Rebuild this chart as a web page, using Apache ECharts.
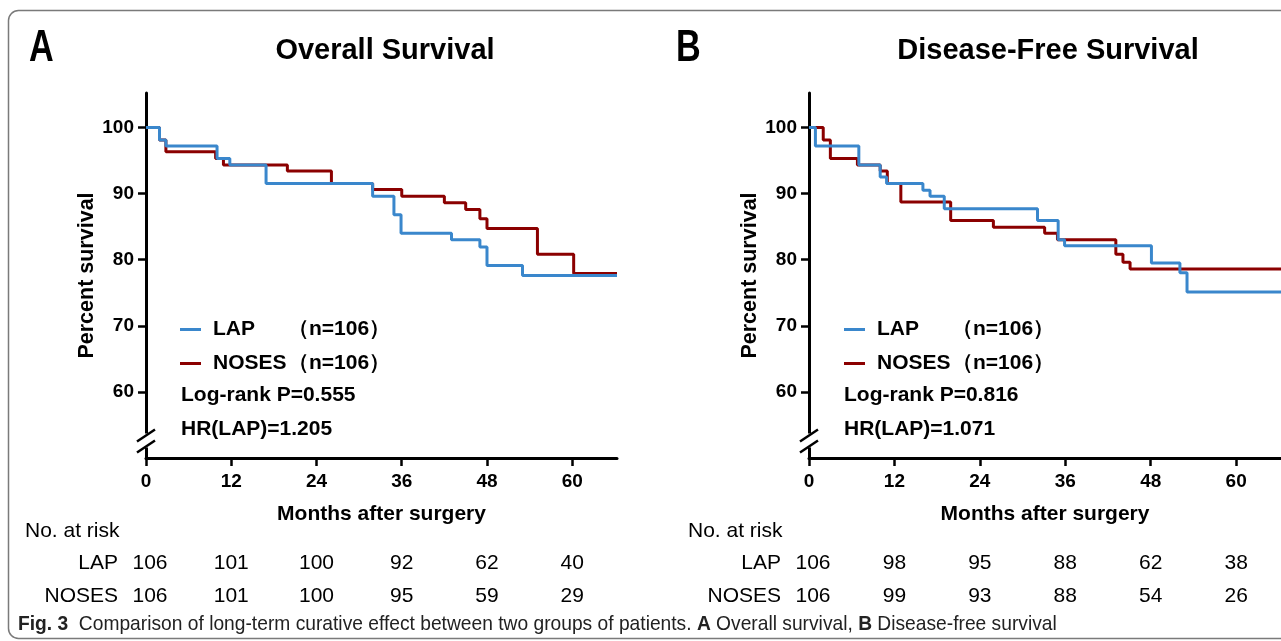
<!DOCTYPE html>
<html><head><meta charset="utf-8">
<script src="https://cdn.jsdelivr.net/npm/echarts@6/dist/echarts.min.js"></script>
<style>html,body{margin:0;padding:0;background:#fff}#c{width:1281px;height:641px}</style>
</head><body><div id="c"></div>
<script>
// ---- data ----
const monthTicks = [0, 12, 24, 36, 48, 60];
const pctTicks = [60, 70, 80, 90, 100];
const groupNames = ['LAP', 'NOSES'];
const groupN = [106, 106];

// Panel A: Overall survival (time in months, survival in %)
const osLapTime = [0, 1.9, 2.8, 10.0, 11.8, 16.9, 31.9, 34.9, 35.9, 43.0, 47.0, 48.0, 53.0, 66.3];
const osLapSurv = [100, 98.1, 97.2, 95.3, 94.3, 91.5, 89.6, 86.8, 84.0, 83.0, 81.9, 79.1, 77.6, 77.6];
const osNosesTime = [0, 1.9, 2.8, 9.8, 10.9, 19.9, 26.1, 31.9, 36.0, 42.0, 45.0, 47.0, 48.0, 55.1, 60.2, 66.3];
const osNosesSurv = [100, 98.1, 96.3, 95.3, 94.3, 93.4, 91.5, 90.6, 89.6, 88.6, 87.6, 86.2, 84.7, 80.8, 77.9, 77.9];

// Panel B: Disease-free survival
const dfsLapTime = [0, 0.9, 7.0, 10.0, 10.9, 16.0, 17.0, 19.0, 32.1, 35.0, 35.9, 48.1, 52.1, 53.1, 66.3];
const dfsLapSurv = [100, 97.2, 94.3, 92.5, 91.5, 90.5, 89.6, 87.7, 85.9, 83.0, 82.1, 79.5, 78.0, 75.1, 75.1];
const dfsNosesTime = [0, 2.0, 3.0, 6.8, 10.0, 11.0, 12.9, 19.9, 25.9, 33.1, 34.9, 43.1, 44.1, 45.1, 66.3];
const dfsNosesSurv = [100, 98.1, 95.3, 94.3, 93.4, 91.5, 88.7, 85.9, 84.9, 84.0, 83.0, 80.8, 79.6, 78.6, 78.6];

// Number at risk
const riskMonths = [0, 12, 24, 36, 48, 60];
const osRiskLap = [106, 101, 100, 92, 62, 40];
const osRiskNoses = [106, 101, 100, 95, 59, 29];
const dfsRiskLap = [106, 98, 95, 88, 62, 38];
const dfsRiskNoses = [106, 99, 93, 88, 54, 26];

const panelTitles = ['Overall Survival', 'Disease-Free Survival'];
const panelLetters = ['A', 'B'];
const logRankP = ['0.555', '0.816'];
const hrLap = ['1.205', '1.071'];
const caption = ['Fig. 3', 'Comparison of long-term curative effect between two groups of patients.', 'A', 'Overall survival,', 'B', 'Disease-free survival'];

// ---- styles ----
const FONT = "'Liberation Sans', Arial, Helvetica, sans-serif";
const BLUE = '#3a87cc';
const RED = '#8b0000';
const AXIS_MAX_X = 66.3;

const chart = echarts.init(document.getElementById('c'), null, {renderer: 'canvas'});

function pairs(t, s) { return t.map((v, i) => [v, s[i]]); }

function xAxis(gi) {
  return {
    type: 'value', gridIndex: gi, min: 0, max: AXIS_MAX_X, interval: 12,
    name: 'Months after surgery', nameLocation: 'middle', nameGap: 46,
    nameTextStyle: {fontFamily: FONT, fontWeight: 'bold', fontSize: 21, color: '#000', verticalAlign: 'top'},
    axisLine: {show: true, onZero: false, lineStyle: {color: '#000', width: 3}},
    axisTick: {show: true, inside: false, length: 8, lineStyle: {color: '#000', width: 2.5}, customValues: monthTicks},
    axisLabel: {fontFamily: FONT, fontWeight: 'bold', fontSize: 19, color: '#000', margin: 14, customValues: monthTicks},
    splitLine: {show: false}
  };
}
function yAxis(gi) {
  return {
    type: 'value', gridIndex: gi, min: 50, max: 105.2, interval: 10,
    name: 'Percent survival', nameLocation: 'middle', nameGap: 48,
    nameTextStyle: {fontFamily: FONT, fontWeight: 'bold', fontSize: 21.5, color: '#000'},
    axisLine: {show: true, onZero: false, lineStyle: {color: '#000', width: 3}},
    axisTick: {show: true, inside: false, length: 8, lineStyle: {color: '#000', width: 2.5}, customValues: pctTicks},
    axisLabel: {fontFamily: FONT, fontWeight: 'bold', fontSize: 19, color: '#000', margin: 12, customValues: pctTicks},
    splitLine: {show: false}
  };
}
function kmSeries(name, gi, data, color, z) {
  return {
    type: 'line', name: name, xAxisIndex: gi, yAxisIndex: gi, step: 'end',
    data: data, showSymbol: false, symbol: 'none', z: z,
    lineStyle: {color: color, width: 3}, itemStyle: {color: color},
    emphasis: {disabled: true}, animation: false
  };
}
function legend(left) {
  return {
    left: left, top: 319, orient: 'vertical', icon: 'rect', itemWidth: 21, itemHeight: 3, itemGap: 13,
    padding: 0, data: groupNames, selectedMode: false,
    formatter: name => '{a|' + name + '}{b|（n=' + groupN[groupNames.indexOf(name)] + '）}',
    textStyle: {
      rich: {
        a: {fontFamily: FONT, fontWeight: 'bold', fontSize: 21, color: '#000', width: 75, padding: [0, 0, 0, 7], lineHeight: 24},
        b: {fontFamily: FONT, fontWeight: 'bold', fontSize: 21, color: '#000', lineHeight: 24}
      }
    }
  };
}

const grids = [
  {left: 146, top: 93, width: 471, height: 365},
  {left: 809, top: 93, width: 472, height: 365}
];

chart.setOption({
  backgroundColor: '#fff',
  animation: false,
  title: panelTitles.map((t, i) => ({
    text: t, left: i === 0 ? 380 : 1043, top: 31, textAlign: 'center',
    textStyle: {fontFamily: FONT, fontWeight: 'bold', fontSize: 29, color: '#000'}
  })),
  legend: [legend(180), legend(844)],
  grid: grids,
  xAxis: [xAxis(0), xAxis(1)],
  yAxis: [yAxis(0), yAxis(1)],
  series: [
    kmSeries('NOSES', 0, pairs(osNosesTime, osNosesSurv), RED, 2),
    kmSeries('LAP', 0, pairs(osLapTime, osLapSurv), BLUE, 3),
    kmSeries('NOSES', 1, pairs(dfsNosesTime, dfsNosesSurv), RED, 2),
    kmSeries('LAP', 1, pairs(dfsLapTime, dfsLapSurv), BLUE, 3)
  ]
});

// ---- annotations positioned from the axes ----
const g = [];
// border
g.push({type: 'rect', shape: {x: 8.5, y: 10.5, width: 1300, height: 628, r: 10},
  style: {fill: 'none', stroke: '#7a7a7a', lineWidth: 1.5}, z: 1, silent: true});

const riskSets = [[osRiskLap, osRiskNoses], [dfsRiskLap, dfsRiskNoses]];
for (let p = 0; p < 2; p++) {
  const x0 = chart.convertToPixel({xAxisIndex: p}, 0);
  const yTop = chart.convertToPixel({yAxisIndex: p}, 53.7);
  const yBot = chart.convertToPixel({yAxisIndex: p}, 51.6);
  // axis break
  g.push({type: 'rect', shape: {x: x0 - 4, y: yTop, width: 8, height: yBot - yTop}, style: {fill: '#fff'}, z: 50, silent: true});
  [yTop + 2, yBot - 1].forEach(yc => {
    g.push({type: 'line', shape: {x1: x0 - 9, y1: yc + 6, x2: x0 + 9, y2: yc - 6},
      style: {stroke: '#000', lineWidth: 2.5}, z: 51, silent: true});
  });
  // panel letter
  g.push({type: 'text', x: p === 0 ? 29 : 676, y: 26, scaleX: 0.76, z: 60,
    style: {text: panelLetters[p], font: "bold 45px " + FONT, fill: '#000', textAlign: 'left', textVerticalAlign: 'top'}});
  // stats
  g.push({type: 'text', x: x0 + 35, y: 395, z: 60,
    style: {text: 'Log-rank P=' + logRankP[p], font: "bold 21px " + FONT, fill: '#000', textVerticalAlign: 'middle'}});
  g.push({type: 'text', x: x0 + 35, y: 429, z: 60,
    style: {text: 'HR(LAP)=' + hrLap[p], font: "bold 21px " + FONT, fill: '#000', textVerticalAlign: 'middle'}});
  // risk table
  g.push({type: 'text', x: x0 - 121, y: 531, z: 60,
    style: {text: 'No. at risk', font: "21px " + FONT, fill: '#000', textVerticalAlign: 'middle'}});
  const rowY = [563, 596];
  for (let r = 0; r < 2; r++) {
    g.push({type: 'text', x: x0 - 28, y: rowY[r], z: 60,
      style: {text: groupNames[r], font: "21px " + FONT, fill: '#000', textAlign: 'right', textVerticalAlign: 'middle'}});
    riskMonths.forEach((m, i) => {
      const xp = chart.convertToPixel({xAxisIndex: p}, m) + (i === 0 ? 4 : 0);
      g.push({type: 'text', x: xp, y: rowY[r], z: 60,
        style: {text: String(riskSets[p][r][i]), font: "21px " + FONT, fill: '#000', textAlign: 'center', textVerticalAlign: 'middle'}});
    });
  }
}
// caption
g.push({type: 'text', x: 18, y: 624, scaleX: 0.915, z: 60,
  style: {
    text: '{b|' + caption[0] + '}  ' + caption[1] + ' {b|' + caption[2] + '} ' + caption[3] + ' {b|' + caption[4] + '} ' + caption[5],
    font: "21px " + FONT, fill: '#222', textVerticalAlign: 'middle',
    rich: {b: {fontWeight: 'bold', fontSize: 21, fontFamily: FONT, fill: '#222'}}
  }});
chart.setOption({graphic: {elements: g}});
</script></body></html>
